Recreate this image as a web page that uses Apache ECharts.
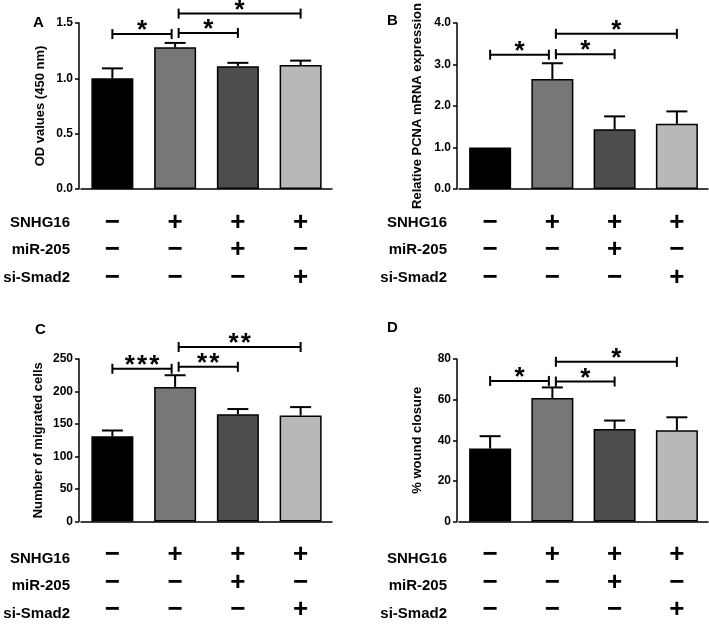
<!DOCTYPE html>
<html><head><meta charset="utf-8">
<script src="https://cdn.jsdelivr.net/npm/echarts@6/dist/echarts.min.js"></script>
<style>html,body{margin:0;padding:0;background:#fff}#c{width:709px;height:624px}</style>
</head><body><div id="c"></div>
<script>
// ---- data ----
const categories = ['G1', 'G2', 'G3', 'G4'];
const rowNames = ['SNHG16', 'miR-205', 'si-Smad2'];
const snhg16Signs = ['\u2212', '+', '+', '+'];
const mir205Signs = ['\u2212', '\u2212', '+', '\u2212'];
const siSmad2Signs = ['\u2212', '\u2212', '\u2212', '+'];

const odValues = [1.00, 1.28, 1.11, 1.12];
const odSD = [0.09, 0.04, 0.03, 0.04];
const pcnaValues = [1.00, 2.65, 1.44, 1.57];
const pcnaSD = [0, 0.38, 0.31, 0.30];
const migratedValues = [131, 207, 165, 163];
const migratedSD = [9, 18, 8, 13];
const woundValues = [35.9, 60.8, 45.6, 44.9];
const woundSD = [6.1, 5.2, 4.1, 6.4];

// brackets: [fromIndex, toIndex, yValue, stars]
const bracketsA = [[0, 1, 1.40, '*'], [1, 2, 1.41, '*'], [1, 3, 1.585, '*']];
const bracketsB = [[0, 1, 3.235, '*'], [1, 2, 3.25, '*'], [1, 3, 3.74, '*']];
const bracketsC = [[0, 1, 235, '***'], [1, 2, 238, '**'], [1, 3, 268.5, '**']];
const bracketsD = [[0, 1, 69.2, '*'], [1, 2, 68.9, '*'], [1, 3, 78.6, '*']];

const barColors = ['#000000', '#777777', '#4d4d4d', '#b8b8b8'];
const FONT = '"Liberation Sans", Arial, sans-serif';

const panels = [
  { letter: 'A', values: odValues, sd: odSD, brackets: bracketsA, max: 1.5, interval: 0.5, dec: 1, name: 'OD values (450 nm)', nameGap: 32,
    grid: { left: 81, top: 23, width: 251, height: 166 }, off: 2, letterPos: [33, 22.5], labelRight: 70 },
  { letter: 'B', values: pcnaValues, sd: pcnaSD, brackets: bracketsB, max: 4, interval: 1, dec: 1, name: 'Relative PCNA mRNA expression', nameGap: 33,
    grid: { left: 459, top: 23, width: 249, height: 166 }, off: 2, letterPos: [387, 21], labelRight: 447 },
  { letter: 'C', values: migratedValues, sd: migratedSD, brackets: bracketsC, max: 250, interval: 50, dec: 0, name: 'Number of migrated cells', nameGap: 34,
    grid: { left: 81, top: 359, width: 251, height: 166 }, off: 2, letterPos: [35, 330], labelRight: 70 },
  { letter: 'D', values: woundValues, sd: woundSD, brackets: bracketsD, max: 80, interval: 20, dec: 0, name: '% wound closure', nameGap: 33,
    grid: { left: 459, top: 359, width: 249, height: 166 }, off: 2, letterPos: [387, 328], labelRight: 447 }
];

const LABEL_MARGIN = 20, ROW_LH = 27.5, STAR_STEP = 12.3;
const grids = [], xAxes = [], yAxes = [], series = [], graphics = [];

panels.forEach((p, i) => {
  grids.push(Object.assign({ containLabel: false }, p.grid));
  xAxes.push({
    type: 'category', gridIndex: i, data: categories,
    axisLine: { lineStyle: { color: '#000', width: 1.5 } },
    axisTick: { alignWithLabel: true, length: 4, lineStyle: { color: '#000', width: 1.5 } },
    axisLabel: {
      margin: LABEL_MARGIN, interval: 0,
      formatter: (v, k) => [snhg16Signs[k], mir205Signs[k], siSmad2Signs[k]].join('\n'),
      fontFamily: FONT, fontWeight: 'bold', fontSize: 26, lineHeight: ROW_LH, color: '#000'
    }
  });
  yAxes.push({
    type: 'value', gridIndex: i, min: 0, max: p.max, interval: p.interval, offset: p.off,
    name: p.name, nameLocation: 'middle', nameGap: p.nameGap,
    nameTextStyle: { fontFamily: FONT, fontWeight: 'bold', fontSize: 13, color: '#000' },
    splitLine: { show: false },
    axisLine: { show: true, lineStyle: { color: '#000', width: 1.5 } },
    axisTick: { show: true, length: 4, lineStyle: { color: '#000', width: 1.5 } },
    axisLabel: { margin: 6, formatter: v => v.toFixed(p.dec), fontFamily: FONT, fontWeight: 'bold', fontSize: 12, color: '#000' }
  });
  series.push({
    type: 'bar', xAxisIndex: i, yAxisIndex: i, barWidth: 42,
    data: p.values.map((v, k) => ({ value: v, itemStyle: { color: barColors[k] } })),
    itemStyle: { borderColor: '#000', borderWidth: 1.5 }, silent: true
  });
  series.push({
    type: 'custom', xAxisIndex: i, yAxisIndex: i, clip: false, silent: true, z: 3,
    data: p.values.map((v, k) => [k, v, v + p.sd[k]]),
    encode: { x: 0, y: [1, 2] },
    renderItem: (params, api) => {
      const a = api.coord([api.value(0), api.value(1)]);
      const b = api.coord([api.value(0), api.value(2)]);
      if (Math.abs(a[1] - b[1]) < 0.5) return null;
      const st = { stroke: '#000', lineWidth: 2 };
      return { type: 'group', children: [
        { type: 'line', shape: { x1: a[0], y1: a[1], x2: b[0], y2: b[1] }, style: st },
        { type: 'line', shape: { x1: b[0] - 10.5, y1: b[1], x2: b[0] + 10.5, y2: b[1] }, style: st }
      ] };
    }
  });
  const br = p.brackets;
  series.push({
    type: 'custom', xAxisIndex: i, yAxisIndex: i, clip: false, silent: true, z: 4,
    data: br.map(b => [b[0], b[1], b[2]]),
    encode: { x: [0, 1], y: 2 },
    renderItem: (params, api) => {
      const f = api.value(0), t = api.value(1), yv = api.value(2);
      const p1 = api.coord([f, yv]), p2 = api.coord([t, yv]);
      const x1 = p1[0] + (f === 1 ? 3.5 : 0);
      const x2 = p2[0] - (t === 1 ? 3.5 : 0);
      const y = p1[1];
      const st = { stroke: '#000', lineWidth: 2 };
      const stars = br[params.dataIndex][3];
      const children = [
        { type: 'line', shape: { x1: x1, y1: y, x2: x2, y2: y }, style: st },
        { type: 'line', shape: { x1: x1, y1: y - 5, x2: x1, y2: y + 5 }, style: st },
        { type: 'line', shape: { x1: x2, y1: y - 5, x2: x2, y2: y + 5 }, style: st }
      ];
      const n = stars.length, cx = (x1 + x2) / 2;
      for (let s = 0; s < n; s++) {
        children.push({ type: 'text', style: { text: '*', x: cx + (s - (n - 1) / 2) * STAR_STEP, y: y - 3,
          align: 'center', verticalAlign: 'middle', font: 'bold 26px ' + FONT, fill: '#000' } });
      }
      return { type: 'group', children: children };
    }
  });
  graphics.push({ type: 'text', x: p.letterPos[0], y: p.letterPos[1],
    style: { text: p.letter, font: 'bold 15px ' + FONT, fill: '#000', verticalAlign: 'middle' } });
  const axisY = p.grid.top + p.grid.height;
  rowNames.forEach((r, k) => {
    graphics.push({ type: 'text', x: p.labelRight, y: axisY + LABEL_MARGIN + ROW_LH * (k + 0.5),
      style: { text: r, font: 'bold 15px ' + FONT, fill: '#000', align: 'right', verticalAlign: 'middle' } });
  });
});

const chart = echarts.init(document.getElementById('c'), null, { renderer: 'canvas' });
chart.setOption({
  animation: false, backgroundColor: '#fff',
  grid: grids, xAxis: xAxes, yAxis: yAxes, series: series, graphic: graphics
});
</script></body></html>
